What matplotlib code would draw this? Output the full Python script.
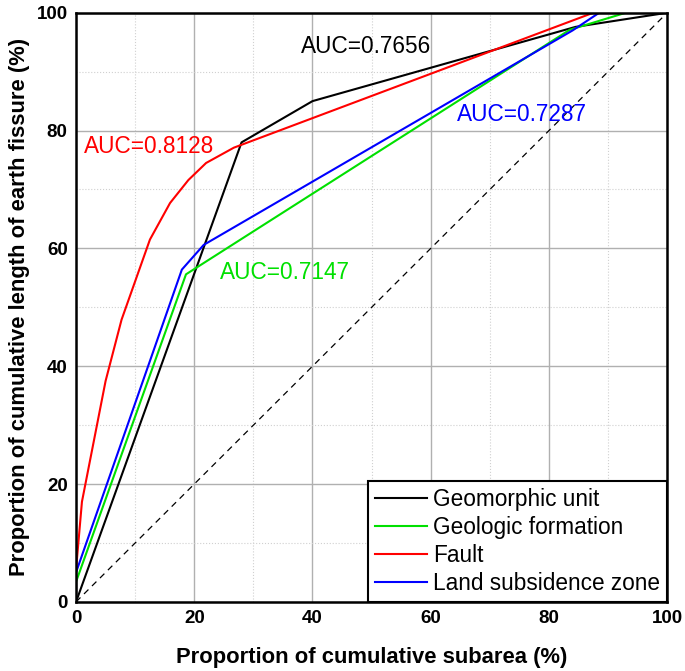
import matplotlib
matplotlib.use("Agg")
import matplotlib.pyplot as plt
from matplotlib.ticker import MultipleLocator

plt.rcParams['font.family'] = ['Liberation Sans', 'DejaVu Sans']

# ROC-like curves (x: cumulative subarea %, y: cumulative length %)
geomorphic_x = [0, 28, 40, 84.5, 100]
geomorphic_y = [0, 78, 85, 97.6, 100]

geologic_x = [0, 0, 18.6, 83.5, 93, 100]
geologic_y = [0, 3.4, 55.6, 97.1, 100, 100]

fault_x = [0, 0, 1, 5, 7.7, 12.5, 15.9, 19, 22, 26.7, 87.5, 100]
fault_y = [0, 5.5, 17, 37.5, 47.9, 61.5, 67.7, 71.6, 74.5, 77.1, 100, 100]

subsidence_x = [0, 0, 17.9, 21.6, 84, 88.5, 100]
subsidence_y = [0, 5, 56.4, 60.6, 97, 100, 100]

labels = ["Geomorphic unit", "Geologic formation", "Fault", "Land subsidence zone"]
colors = ["black", "#00e000", "red", "blue"]
auc_text = ["AUC=0.7656", "AUC=0.7147", "AUC=0.8128", "AUC=0.7287"]
auc_pos = [(49, 94.3), (35.3, 55.9), (12.4, 77.3), (75.4, 82.7)]

fig = plt.figure(figsize=(6.85, 6.71), dpi=100)
ax = fig.add_axes([0.111, 0.103, 0.863, 0.878])

ax.plot([0, 100], [0, 100], color="black", lw=0.9, ls=(0, (5, 4)))
series = [(geomorphic_x, geomorphic_y), (geologic_x, geologic_y),
          (fault_x, fault_y), (subsidence_x, subsidence_y)]
for (xs, ys), lab, c in zip(series, labels, colors):
    ax.plot(xs, ys, color=c, lw=1.5, label=lab)

for t, (x, y), c in zip(auc_text, auc_pos, colors):
    ax.text(x, y, t, color=c, fontsize=16.3, ha="center", va="center")

ax.set_xlim(0, 100)
ax.set_ylim(0, 100)
ax.xaxis.set_major_locator(MultipleLocator(20))
ax.yaxis.set_major_locator(MultipleLocator(20))
ax.xaxis.set_minor_locator(MultipleLocator(10))
ax.yaxis.set_minor_locator(MultipleLocator(10))
ax.grid(which="major", color="#b0b0b0", lw=1, ls="-")
ax.grid(which="minor", color="#d0d0d0", lw=0.8, ls=":")
ax.set_axisbelow(True)
ax.tick_params(which="both", length=0, labelsize=13.5, pad=6)
for lab in ax.get_xticklabels() + ax.get_yticklabels():
    lab.set_fontweight("bold")
for sp in ax.spines.values():
    sp.set_linewidth(1.8)

ax.set_xlabel("Proportion of cumulative subarea (%)", fontsize=15.8, fontweight="bold", labelpad=14)
ax.set_ylabel("Proportion of cumulative length of earth fissure (%)", fontsize=15.8, fontweight="bold", labelpad=5)

leg = ax.legend(loc="lower right", fontsize=16.3, frameon=True, fancybox=False,
                edgecolor="black", framealpha=1, borderaxespad=0,
                handlelength=2.3, labelspacing=0.22, borderpad=0.3, handletextpad=0.3)
leg.get_frame().set_linewidth(1.5)
for h in leg.get_lines():
    h.set_linewidth(1.5)

fig.savefig("out.png", dpi=100)
